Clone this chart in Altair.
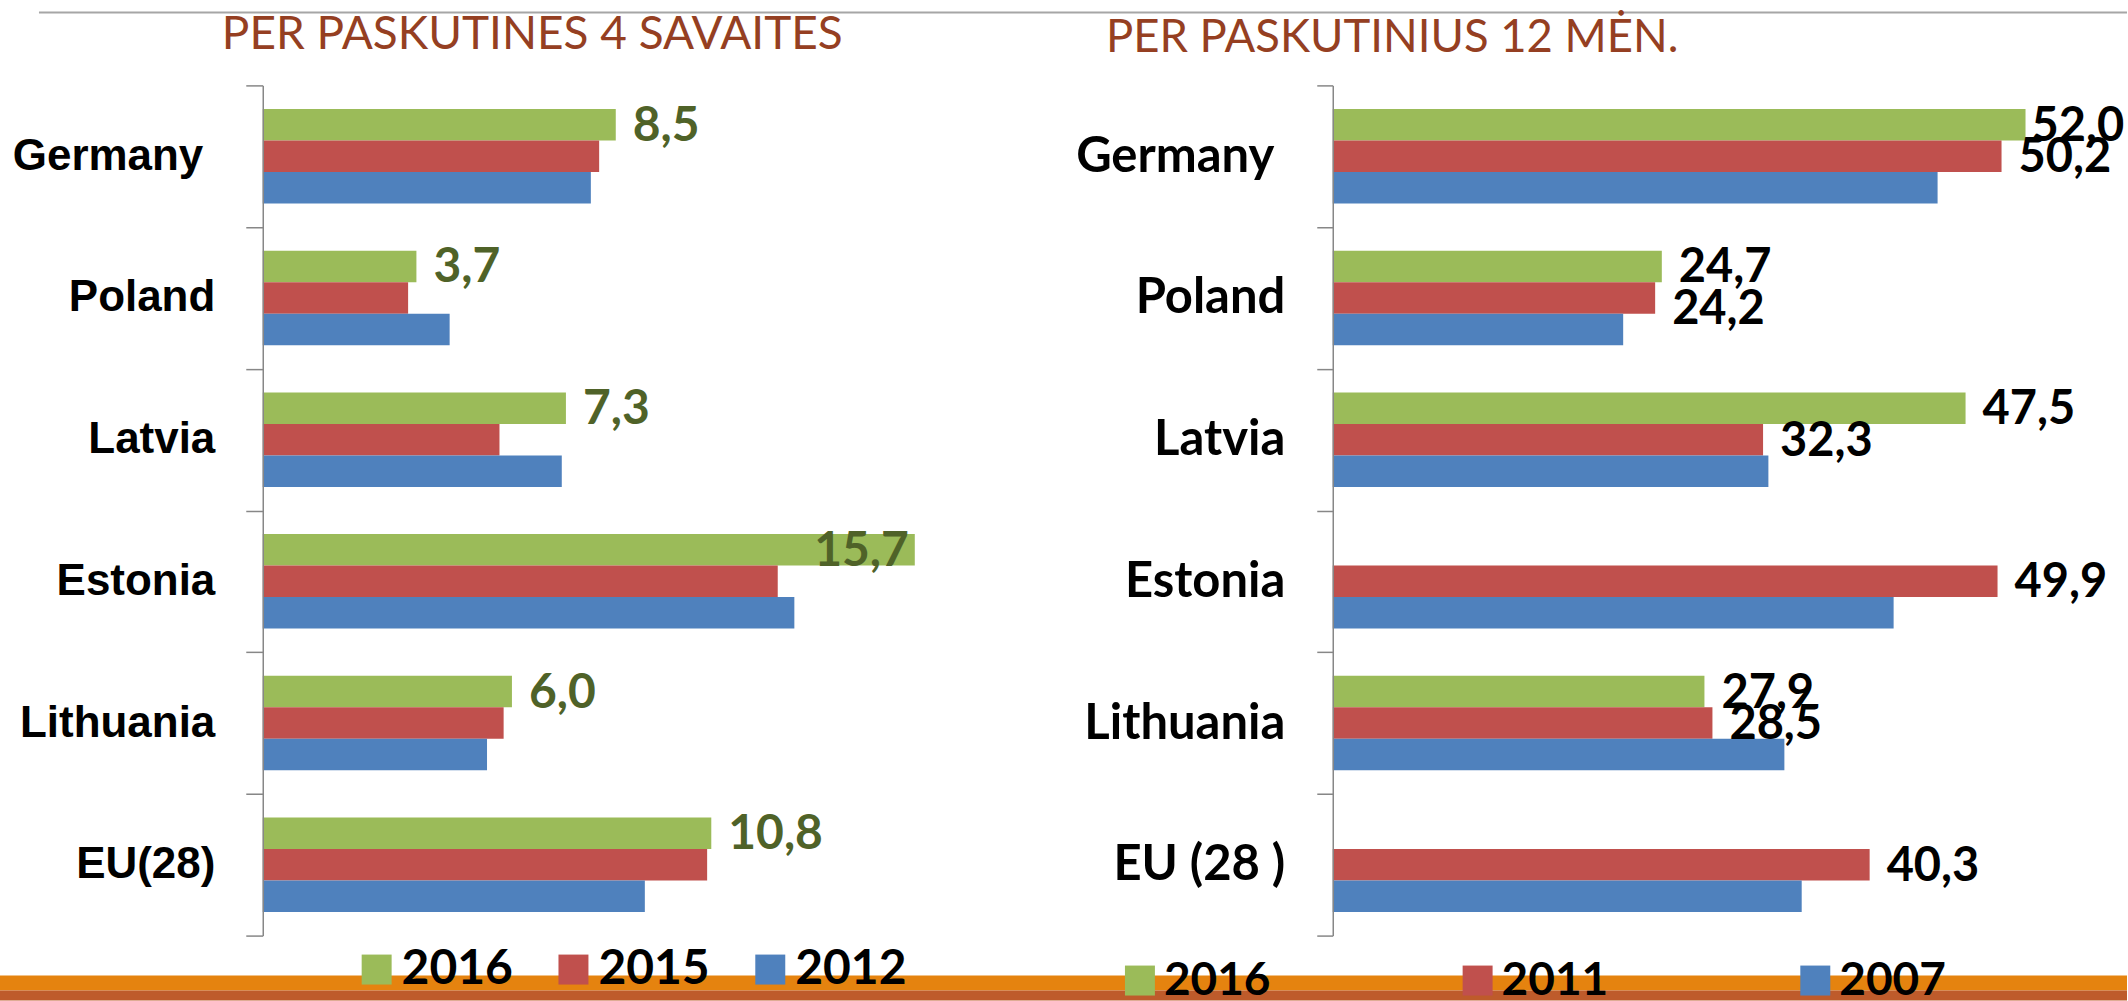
import altair as alt
import pandas as pd

# ---------------- data ----------------
countries_left = ["Germany ", "Poland", "Latvia", "Estonia", "Lithuania", "EU(28)"]
series_left = ["2016", "2015", "2012"]
left_2016 = [8.5, 3.7, 7.3, 15.7, 6.0, 10.8]
left_2015 = [8.1, 3.5, 5.7, 12.4, 5.8, 10.7]
left_2012 = [7.9, 4.5, 7.2, 12.8, 5.4, 9.2]

countries_right = ["Germany ", "Poland", "Latvia", "Estonia", "Lithuania", "EU (28 )"]
series_right = ["2016", "2011", "2007"]
right_2016 = [52.0, 24.7, 47.5, None, 27.9, None]
right_2011 = [50.2, 24.2, 32.3, 49.9, 28.5, 40.3]
right_2007 = [45.4, 21.8, 32.7, 42.1, 33.9, 35.2]

title_left = "PER PASKUTINES 4 SAVAITES"
title_right = "PER PASKUTINIUS 12 MĖN."

colors = ["#9BBB59", "#C0504D", "#4F81BD"]


def long_df(countries, series, cols):
    rows = []
    for s, vals in zip(series, cols):
        for c, v in zip(countries, vals):
            if v is None:
                continue
            rows.append({"country": c, "series": s, "value": v,
                         "label": f"{v:.1f}".replace(".", ",")})
    return pd.DataFrame(rows)


df_left = long_df(countries_left, series_left, [left_2016, left_2015, left_2012])
df_right = long_df(countries_right, series_right, [right_2016, right_2011, right_2007])

H = 851
W1 = 660
W2 = 795
SPACING = 411
K_LEFT = 41.57   # px per unit
K_RIGHT = 13.335
GRAY = "#878787"


def enc_y(countries, font, size, pad, pad_trailing, ticklen):
    return alt.Y(
        "country:N", sort=countries,
        scale=alt.Scale(domain=countries, paddingInner=0, paddingOuter=0),
        axis=alt.Axis(title=None, tickBand="extent", domainColor=GRAY, domainWidth=1.5,
                      tickColor=GRAY, tickWidth=1.5, tickSize=ticklen,
                      labelPadding={"condition": {"test": "datum.value == 'Germany '",
                                                  "value": pad_trailing},
                                    "value": pad},
                      labelFont=font, labelFontSize=size, labelFontWeight="bold",
                      labelColor="black", labelLimit=500, zindex=1),
    )


def enc_off(series):
    return alt.YOffset("series:N", sort=series,
                       scale=alt.Scale(domain=series, paddingInner=0, paddingOuter=0.75))


one = pd.DataFrame({"t": [""]})


def decorations():
    bg = alt.Chart(one).mark_rect(color="white").encode(
        x=alt.value(-263), x2=alt.value(1866), y=alt.value(-85), y2=alt.value(916))
    line = alt.Chart(one).mark_rule(color="#A6A6A6", strokeWidth=2).encode(
        x=alt.value(-224), x2=alt.value(1866), y=alt.value(-73))
    band1 = alt.Chart(one).mark_rect(color="#E5830F").encode(
        x=alt.value(-263), x2=alt.value(1866), y=alt.value(891), y2=alt.value(906))
    band2 = alt.Chart(one).mark_rect(color="#BE5B2B").encode(
        x=alt.value(-263), x2=alt.value(1866), y=alt.value(906), y2=alt.value(916))
    return [bg, line, band1, band2]


# ---------------- left panel ----------------
xl = alt.X("value:Q", axis=None, scale=alt.Scale(domain=[0, W1 / K_LEFT], nice=False, zero=True))
yl = enc_y(countries_left, "Liberation Sans", 44, 31, 43, 17)
ol = enc_off(series_left)

base_l = alt.Chart(df_left)
bars_l = base_l.mark_bar().encode(
    x=xl, y=yl, yOffset=ol,
    color=alt.Color("series:N", sort=series_left,
                    scale=alt.Scale(domain=series_left, range=colors),
                    legend=alt.Legend(title=None, orient="none", legendX=90, legendY=861,
                                      direction="horizontal", symbolType="square",
                                      symbolSize=900, symbolStrokeWidth=0,
                                      labelFont="Lato", labelFontSize=48,
                                      labelFontWeight="bold", labelColor="black",
                                      labelOffset=1, columnPadding=36, labelLimit=400)),
)
txt_style_l = dict(align="left", baseline="middle", dx=17, dy=2, font="Lato",
                   fontSize=48, fontWeight="bold", color="#4F6228")
txt_l = base_l.mark_text(**txt_style_l).encode(
    x=xl, y=yl, yOffset=ol, text="label:N"
).transform_filter("datum.series == '2016' && datum.country != 'Estonia'")
txt_l_sp = base_l.mark_text(**{**txt_style_l, "align": "right", "dx": -6}).encode(
    x=xl, y=yl, yOffset=ol, text="label:N"
).transform_filter("datum.series == '2016' && datum.country == 'Estonia'")
title_l = alt.Chart(pd.DataFrame({"t": [title_left]})).mark_text(
    align="left", baseline="alphabetic", font="Lato", fontSize=46, color="#953F22"
).encode(text="t:N", x=alt.value(-41), y=alt.value(-36))

left = alt.layer(*decorations(), bars_l, txt_l, txt_l_sp, title_l).properties(width=W1, height=H)

# ---------------- right panel ----------------
xr = alt.X("value:Q", axis=None, scale=alt.Scale(domain=[0, W2 / K_RIGHT], nice=False, zero=True))
yr = enc_y(countries_right, "Lato", 49, 32, 43, 16)
orr = enc_off(series_right)

base_r = alt.Chart(df_right)
bars_r = base_r.mark_bar().encode(
    x=xr, y=yr, yOffset=orr,
    color=alt.Color("series:N", sort=series_right,
                    scale=alt.Scale(domain=series_right, range=colors),
                    legend=alt.Legend(title=None, orient="none", legendX=-216, legendY=873,
                                      direction="horizontal", symbolType="square",
                                      symbolSize=900, symbolStrokeWidth=0,
                                      labelFont="Lato", labelFontSize=46,
                                      labelFontWeight="bold", labelColor="black",
                                      labelOffset=1, columnPadding=184, labelLimit=400)),
)
txt_style_r = dict(align="left", baseline="middle", dx=17, dy=2, font="Lato",
                   fontSize=47, fontWeight="bold", color="black")
main_filter = ("(datum.series == '2016' || datum.series == '2011')"
               " && !(datum.series == '2016' && datum.country == 'Germany ')"
               " && !(datum.series == '2011' && datum.country == 'Poland')")
txt_r = base_r.mark_text(**txt_style_r).encode(
    x=xr, y=yr, yOffset=orr, text="label:N").transform_filter(main_filter)
txt_r_g = base_r.mark_text(**{**txt_style_r, "dx": 6}).encode(
    x=xr, y=yr, yOffset=orr, text="label:N"
).transform_filter("datum.series == '2016' && datum.country == 'Germany '")
txt_r_p = base_r.mark_text(**{**txt_style_r, "dy": 12}).encode(
    x=xr, y=yr, yOffset=orr, text="label:N"
).transform_filter("datum.series == '2011' && datum.country == 'Poland'")
title_r = alt.Chart(pd.DataFrame({"t": [title_right]})).mark_text(
    align="left", baseline="alphabetic", font="Lato", fontSize=45.5, color="#953F22"
).encode(text="t:N", x=alt.value(-227), y=alt.value(-33))

right = alt.layer(bars_r, txt_r, txt_r_g, txt_r_p, title_r).properties(width=W2, height=H)

chart = alt.hconcat(left, right, spacing=SPACING, bounds="flush").resolve_scale(
    x="independent", y="independent", color="independent", yOffset="independent"
).resolve_legend(color="independent").properties(
    padding={"left": 0, "top": 0, "right": 0, "bottom": 0},
    background="white",
).configure_view(strokeWidth=0)

chart.save("out.html", embed_options={"renderer": "svg", "actions": False})
